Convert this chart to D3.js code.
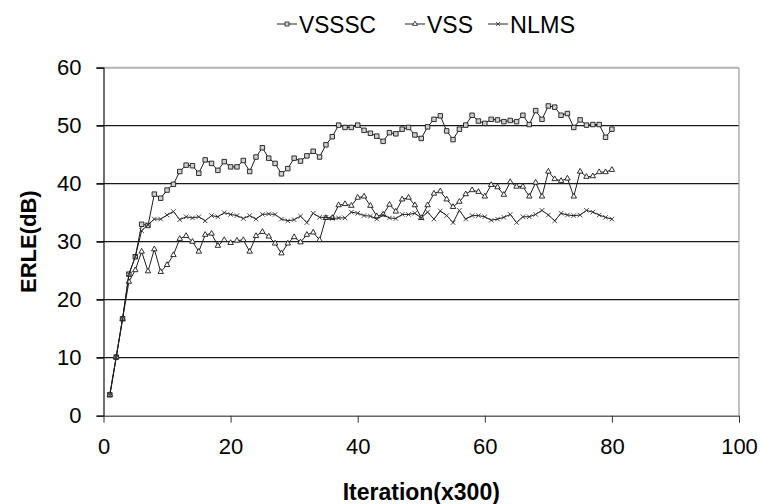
<!DOCTYPE html>
<html>
<head>
<meta charset="utf-8">
<script src="https://cdn.jsdelivr.net/npm/d3@7/dist/d3.min.js"></script>
<style>
  html, body { margin: 0; padding: 0; background: #fff; }
  svg { display: block; }
  text { font-family: "Liberation Sans", Arial, sans-serif; fill: #000; }
</style>
</head>
<body>
<div id="chart"></div>
<script>
var iterations = d3.range(1, 81);

var vsssc = [3.6, 10.1, 16.7, 24.4, 27.4, 33.0, 32.8, 38.2, 37.5, 38.9,
  39.9, 42.1, 43.2, 43.1, 41.8, 44.1, 43.5, 42.3, 43.8, 42.9,
  42.9, 44.0, 42.1, 44.6, 46.2, 44.4, 43.5, 41.7, 42.6, 44.4,
  43.9, 44.8, 45.6, 44.6, 46.7, 48.1, 50.1, 49.7, 49.7, 50.1,
  49.2, 48.7, 48.2, 47.3, 48.8, 48.6, 49.4, 49.7, 48.4, 47.8,
  49.8, 51.1, 51.7, 49.1, 47.6, 49.4, 50.1, 51.8, 50.8, 50.4,
  51.1, 51.0, 50.7, 50.9, 50.7, 51.8, 50.2, 52.6, 51.1, 53.4,
  53.2, 51.8, 52.1, 49.7, 51.0, 50.1, 50.2, 50.2, 48.0, 49.4];

var vss = [3.6, 10.1, 16.7, 23.1, 25.1, 28.3, 24.9, 28.7, 24.8, 26.0,
  27.7, 30.5, 31.0, 30.0, 28.3, 31.2, 31.4, 29.3, 30.3, 29.8,
  30.2, 30.3, 28.3, 31.0, 31.7, 30.9, 29.7, 28.0, 29.7, 30.8,
  29.9, 31.2, 31.6, 30.3, 34.1, 34.1, 36.3, 36.5, 36.2, 37.6,
  37.8, 36.2, 34.4, 34.7, 36.4, 35.2, 37.3, 37.6, 36.3, 34.1,
  36.3, 38.3, 38.7, 37.3, 36.0, 36.9, 38.2, 38.9, 38.6, 37.8,
  39.8, 39.4, 38.1, 40.3, 39.5, 39.5, 37.8, 40.2, 37.8, 42.1,
  40.8, 40.5, 40.9, 37.8, 42.1, 41.2, 41.3, 42.0, 42.0, 42.4];

var nlms = [3.6, 10.1, 16.7, 24.4, 27.4, 31.9, 32.9, 33.9, 33.9, 34.6,
  35.2, 33.8, 34.3, 34.1, 34.3, 33.6, 34.5, 34.3, 35.0, 34.7,
  34.5, 34.0, 34.5, 33.9, 34.7, 34.8, 34.7, 33.9, 33.6, 33.8,
  34.4, 33.3, 34.9, 34.2, 34.2, 34.0, 34.1, 34.1, 35.1, 34.9,
  34.5, 34.4, 33.9, 34.6, 34.1, 34.0, 34.7, 34.7, 34.9, 34.1,
  35.1, 33.9, 35.3, 34.5, 33.3, 35.4, 33.9, 34.5, 34.5, 34.3,
  33.7, 33.9, 34.2, 34.7, 33.3, 34.3, 34.3, 34.7, 35.4, 34.6,
  33.6, 34.9, 34.6, 34.5, 34.6, 35.4, 35.1, 34.6, 34.2, 33.9];

var seriesNames = ['VSSSC', 'VSS', 'NLMS'];
var xTicks = [0, 20, 40, 60, 80, 100];
var yTicks = [0, 10, 20, 30, 40, 50, 60];

var width = 760,
    height = 504,
    margin = {top: 67.7, right: 21, bottom: 88.3, left: 103.5},
    innerW = width - margin.left - margin.right,
    innerH = height - margin.top - margin.bottom;

var timesType = d3.symbolTimes || d3.symbolCross;

var series = [
  {name: seriesNames[0], values: vsssc, type: d3.symbolSquare, size: 20, fill: '#d0d0d0', stroke: '#1a1a1a'},
  {name: seriesNames[1], values: vss, type: d3.symbolTriangle, size: 13, fill: '#fff', stroke: '#1a1a1a'},
  {name: seriesNames[2], values: nlms, type: timesType, size: 15, fill: 'none', stroke: '#333'}
];

var x = d3.scaleLinear().domain([0, 100]).range([0, innerW]),
    y = d3.scaleLinear().domain([0, 60]).range([innerH, 0]);

var svg = d3.select('#chart').append('svg')
    .attr('width', width)
    .attr('height', height);

var g = svg.append('g')
    .attr('transform', 'translate(' + margin.left + ',' + margin.top + ')');

// grid lines (the top one is lighter, like the frame)
g.append('g').selectAll('line')
  .data(yTicks.filter(function(d) { return d > 0; }))
  .join('line')
    .attr('x1', -7)
    .attr('x2', innerW)
    .attr('y1', function(d) { return y(d); })
    .attr('y2', function(d) { return y(d); })
    .attr('stroke', function(d) { return d === 60 ? '#b4b4b4' : '#1a1a1a'; })
    .attr('stroke-width', function(d) { return d === 60 ? 2 : 1.2; });

// right frame edge
g.append('line')
  .attr('x1', innerW).attr('x2', innerW)
  .attr('y1', 0).attr('y2', innerH)
  .attr('stroke', '#9a9a9a')
  .attr('stroke-width', 1.2);

// y axis
var yAxis = g.append('g')
  .call(d3.axisLeft(y).tickValues(yTicks).tickSize(7).tickPadding(15));

yAxis.select('.domain').attr('stroke', '#111').attr('stroke-width', 1.2);
yAxis.selectAll('.tick line').attr('stroke', '#111');
yAxis.selectAll('text')
  .style('font-size', '22px')
  .attr('fill', '#000');

// x axis
var xAxis = g.append('g')
  .attr('transform', 'translate(0,' + innerH + ')')
  .call(d3.axisBottom(x).tickValues(xTicks).tickSize(7).tickPadding(16).tickSizeOuter(0));

xAxis.select('.domain').attr('stroke', '#666').attr('stroke-width', 1.6);
xAxis.selectAll('.tick line').attr('stroke', '#333');
xAxis.selectAll('text')
  .style('font-size', '22px')
  .attr('fill', '#000');

// axis titles
svg.append('text')
  .attr('x', margin.left + innerW / 2)
  .attr('y', 500)
  .attr('text-anchor', 'middle')
  .style('font-size', '23px')
  .style('font-weight', 'bold')
  .text('Iteration(x300)');

svg.append('text')
  .attr('transform', 'translate(36,' + (margin.top + innerH / 2) + ') rotate(-90)')
  .attr('text-anchor', 'middle')
  .style('font-size', '22px')
  .style('font-weight', 'bold')
  .text('ERLE(dB)');

// lines and markers
var line = d3.line()
  .x(function(d, i) { return x(iterations[i]); })
  .y(function(d) { return y(d); });

var layers = g.selectAll('.series')
  .data(series)
  .join('g')
    .attr('class', 'series');

layers.append('path')
  .attr('d', function(s) { return line(s.values); })
  .attr('fill', 'none')
  .attr('stroke', '#1e1e1e')
  .attr('stroke-width', 1);

layers.each(function(s) {
  var sym = d3.symbol().type(s.type).size(s.size);
  d3.select(this).selectAll('path.mark')
    .data(s.values)
    .join('path')
      .attr('class', 'mark')
      .attr('d', sym)
      .attr('transform', function(d, i) {
        return 'translate(' + x(iterations[i]) + ',' + y(d) + ')';
      })
      .attr('fill', s.fill)
      .attr('stroke', s.stroke)
      .attr('stroke-width', 0.9);
});

// legend
var legendX = [277, 405, 488],
    legend = svg.append('g').attr('transform', 'translate(0,33)');

var items = legend.selectAll('g')
  .data(series)
  .join('g')
    .attr('transform', function(s, i) { return 'translate(' + legendX[i] + ',0)'; });

items.append('line')
  .attr('x1', 0).attr('x2', 20)
  .attr('y1', -9).attr('y2', -9)
  .attr('stroke', '#222')
  .attr('stroke-width', 1);

items.append('path')
  .attr('d', function(s) { return d3.symbol().type(s.type).size(s.size * 0.8)(); })
  .attr('transform', 'translate(10,-9)')
  .attr('fill', function(s) { return s.fill; })
  .attr('stroke', function(s) { return s.stroke; })
  .attr('stroke-width', 0.8);

items.append('text')
  .attr('x', 22)
  .attr('y', 0)
  .style('font-size', '23px')
  .attr('textLength', function(s, i) { return [77, 46, 65][i]; })
  .attr('lengthAdjust', 'spacingAndGlyphs')
  .text(function(s) { return s.name; });
</script>
</body>
</html>
